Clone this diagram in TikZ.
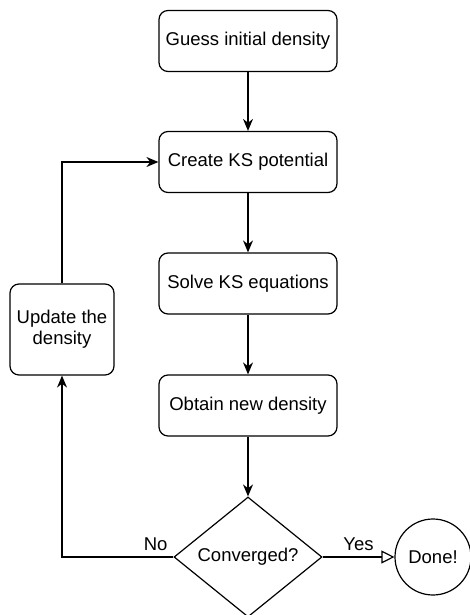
\documentclass[tikz,border=0pt]{standalone}
\usepackage{fontspec}
\setmainfont{Liberation Sans}
\usepackage{tikz}
\usetikzlibrary{arrows.meta}
\usetikzlibrary{shapes.geometric}

\begin{document}
\begin{tikzpicture}
     [
     x=1pt, y=-1pt,
     schritt/.style = {draw, rounded corners=9pt, minimum width=178pt, minimum height=61pt, inner sep=0pt},
     test/.style = {draw, shape=diamond, aspect=1.23, minimum width=148pt, minimum height=120pt, inner sep=0pt},
     ende/.style = {draw, shape=circle, minimum size=76pt, inner sep=0pt},
     >={Stealth[length=12pt,width=10pt]}, line width=1.2pt
     ]
     \fontsize{18.5}{21}\selectfont

     \useasboundingbox (0,0) rectangle (470,615);

    \draw (248,41) node[schritt] (guess) {Guess initial density}
               (248,162) node[schritt] (ks) {Create KS potential}
               (248,283.5) node[schritt] (solve) {Solve KS equations}
               (248,405.5) node[schritt] (obtain) {Obtain new density}
               (62,329.5) node[schritt,minimum width=104pt,minimum height=91pt,align=center] (update) {Update the\\density}
               (248,557) node[test] (conv) {Converged?}
               (433,557) node[ende] (done) {Done!}
     ;

     \draw[->] (guess) edge (ks) (ks) edge (solve) (solve) edge (obtain)
     (obtain) edge (conv);

     \draw[->] (conv.west) -| node[pos=0.08,above] {No} (update.south);
     \draw[->] (update.north) |- (ks.west);
     \draw[-{Triangle[open,length=13pt,width=13pt]}] (conv.east) -- node[above] {Yes} (done.west);
  \end{tikzpicture}
\end{document}
